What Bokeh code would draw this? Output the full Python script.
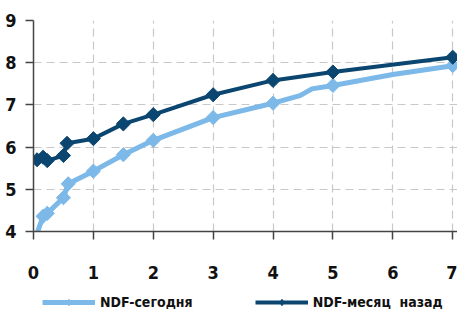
from bokeh.plotting import figure
from bokeh.models import Range1d, FixedTicker, Legend, LegendItem
from bokeh.layouts import column
from bokeh.embed import file_html
from bokeh.resources import INLINE

# Light series (NDF-сегодня): full line path and marked points
today_line_x = [0.04, 0.16, 0.23, 0.5, 0.58, 1.0, 1.5, 2.0, 3.0, 4.0, 4.45, 4.65, 5.0, 6.0, 7.0]
today_line_y = [3.88, 4.36, 4.43, 4.80, 5.13, 5.43, 5.82, 6.16, 6.70, 7.04, 7.22, 7.38, 7.46, 7.72, 7.93]
today_mark_x = [0.16, 0.23, 0.5, 0.58, 1.0, 1.5, 2.0, 3.0, 4.0, 5.0, 7.0]
today_mark_y = [4.36, 4.43, 4.80, 5.13, 5.43, 5.82, 6.16, 6.70, 7.04, 7.46, 7.93]

# Dark series (NDF-месяц назад)
month_x = [0.06, 0.16, 0.23, 0.5, 0.56, 1.0, 1.5, 2.0, 3.0, 4.0, 5.0, 7.0]
month_y = [5.70, 5.76, 5.68, 5.80, 6.09, 6.20, 6.55, 6.77, 7.24, 7.58, 7.78, 8.13]

x_ticks = [0, 1, 2, 3, 4, 5, 6, 7]
y_ticks = [4, 5, 6, 7, 8, 9]
series_names = ["NDF-сегодня", "NDF-месяц  назад"]

LIGHT = "#7cb9e8"
DARK = "#0b4670"
FONT = "'DejaVu Sans Condensed', 'Liberation Sans Narrow', Roboto, sans-serif"

p = figure(width=457, height=281, output_backend="svg", toolbar_location=None,
           x_range=Range1d(0, 7.08), y_range=Range1d(4, 9),
           min_border_left=33, min_border_right=0, min_border_top=20, min_border_bottom=0)
p.outline_line_color = None
p.background_fill_color = "white"

for ax in (p.xaxis[0], p.yaxis[0]):
    ax.major_label_text_font = FONT
    ax.major_label_text_font_style = "bold"
    ax.major_label_text_font_size = "18px"
    ax.major_label_text_color = "#111111"
    ax.axis_line_color = "#444444"
    ax.axis_line_width = 1.5
    ax.major_tick_line_color = "#444444"
    ax.major_tick_line_width = 1.5
    ax.major_tick_out = 8
    ax.major_tick_in = 0
    ax.minor_tick_line_color = None

p.xaxis.ticker = FixedTicker(ticks=x_ticks)
p.yaxis.ticker = FixedTicker(ticks=y_ticks)
p.xaxis.major_label_standoff = 26
p.yaxis.major_label_standoff = 9

p.grid.grid_line_color = "#c8c8c8"
p.grid.grid_line_dash = "8 5"
p.grid.grid_line_width = 1.2

p.line(today_line_x, today_line_y, color=LIGHT, line_width=5)
p.scatter(today_mark_x, today_mark_y, marker="square", angle=0.785, size=10, color=LIGHT)
p.line(month_x, month_y, color=DARK, line_width=4)
p.scatter(month_x, month_y, marker="square", angle=0.785, size=10, color=DARK)

# Legend strip below the chart (its glyphs sit outside the visible range)
p2 = figure(width=457, height=29, output_backend="svg", toolbar_location=None,
            x_axis_location=None, y_axis_location=None, min_border=0,
            x_range=Range1d(100, 101), y_range=Range1d(100, 101))
p2.outline_line_color = None
p2.grid.visible = False
g1 = p2.line(today_mark_x, today_mark_y, color=LIGHT, line_width=5)
s1 = p2.scatter(today_mark_x, today_mark_y, marker="diamond", size=15, color=LIGHT)
g2 = p2.line(month_x, month_y, color=DARK, line_width=4)
s2 = p2.scatter(month_x, month_y, marker="diamond", size=15, color=DARK)

legend = Legend(items=[LegendItem(label=series_names[0], renderers=[g1, s1]),
                       LegendItem(label=series_names[1], renderers=[g2, s2])],
                orientation="horizontal", location=(9, 0),
                label_text_font=FONT, label_text_font_style="bold",
                label_text_font_size="14px", label_text_color="#111111",
                glyph_width=53, glyph_height=16, label_standoff=5, spacing=62,
                border_line_color=None, background_fill_alpha=0,
                margin=0, padding=0)
p2.add_layout(legend, "center")

layout = column(p, p2, spacing=0)
open("out.html", "w").write(file_html(layout, INLINE))
